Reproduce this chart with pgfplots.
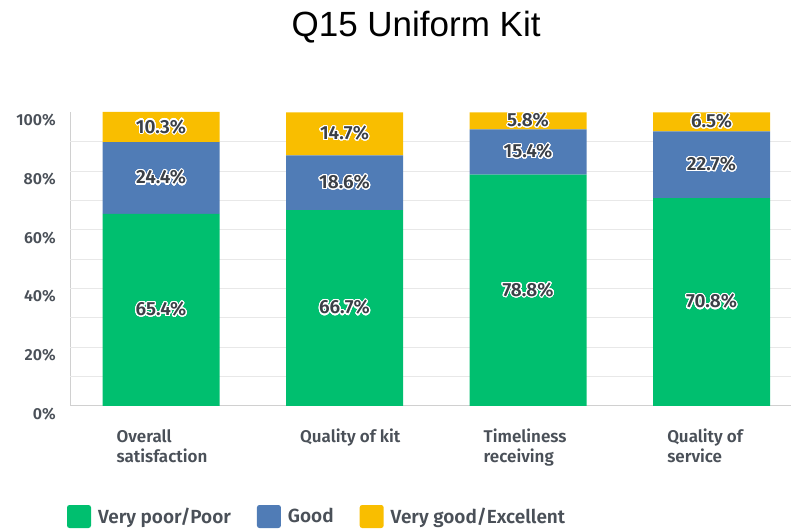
\documentclass[border=0pt]{standalone}
\usepackage{pgfplots}
\pgfplotsset{compat=1.18}
\usepackage{pgfplotstable}
\usepackage{fontspec}
\setmainfont{Fira Sans}[BoldFont={Fira Sans SemiBold}]
\newfontfamily\titlefont{Liberation Sans}
\usepackage{contour}
\contourlength{1.1pt}
\contournumber{32}
\definecolor{cgreen}{HTML}{00BF6F}
\definecolor{cblue}{HTML}{507CB6}
\definecolor{cyellow}{HTML}{F9BE00}
\definecolor{labgray}{HTML}{4A5058}
\definecolor{valgray}{HTML}{3B4047}
\definecolor{gridgray}{HTML}{E8E8E8}
\definecolor{axgray}{HTML}{D0D0D0}

\pgfplotstableread{
x g b y
0 65.4 24.4 10.3
1 66.7 18.6 14.7
2 78.8 15.4 5.8
3 70.8 22.7 6.5
}\data

\begin{document}
\begin{tikzpicture}
\path[use as bounding box] (0,0) rectangle (791pt,529pt);
\begin{axis}[
  at={(70pt,123pt)}, anchor=south west,
  scale only axis, width=721pt, height=294pt,
  ybar stacked, bar width=117pt,
  xmin=-0.496, xmax=3.433, ymin=0, ymax=100.1,
  clip=false,
  axis x line*=bottom, axis y line*=left,
  axis line style={draw=axgray, line width=1pt, -},
  major tick length=0pt, minor tick length=0pt,
  xtick={0,1,2,3},
  xticklabels={Overall\\satisfaction, Quality of kit, Timeliness\\receiving, Quality of\\service},
  xticklabel style={align=left, anchor=north west, inner sep=0pt, xshift=-44.5pt, yshift=-23pt,
    font=\bfseries\fontsize{17}{20}\selectfont, text=labgray},
  ytick={0,20,40,60,80,100},
  yticklabels={0\%,20\%,40\%,60\%,80\%,100\%},
  yticklabel style={anchor=east, inner sep=0pt, xshift=-14pt, yshift=-8pt,
    font=\bfseries\fontsize{16}{19}\selectfont, text=labgray},
  extra y ticks={10,20,30,40,50,60,70,80,90},
  extra y tick labels={},
  extra y tick style={grid=major, major grid style={draw=gridgray, line width=1pt}},
  title={Q15 Uniform Kit},
  title style={font=\titlefont\fontsize{35}{40}\selectfont, anchor=base, at={(0.48,1)}, yshift=69pt},
  legend columns=3,
  legend cell align=left,
  legend style={at={(0,0)}, anchor=west, xshift=-3pt, yshift=-110.5pt, draw=none, fill=none,
    inner sep=0pt, outer sep=0pt, column sep=7pt,
    /tikz/every even column/.append style={column sep=26pt},
    nodes={inner sep=0pt, font=\bfseries\fontsize{19}{22}\selectfont, text=labgray}},
  point meta=explicit,
  nodes near coords={\contour{white}{\textcolor{valgray}{\pgfmathprintnumber[fixed,fixed zerofill,precision=1,assume math mode=true]{\pgfplotspointmeta}\%}}},
  every node near coord/.append style={anchor=center, font=\bfseries\fontsize{19}{22}\selectfont, text=valgray},
  sq/.style={legend image code/.code={\fill[##1, rounded corners=2.5pt] (0pt,-11.5pt) rectangle (24pt,11.5pt);}},
]
\addplot[fill=cgreen, draw=none, sq] table[x=x, y=g, meta=g] {\data};
\addplot[fill=cblue, draw=none, sq] table[x=x, y=b, meta=b] {\data};
\addplot[fill=cyellow, draw=none, sq] table[x=x, y=y, meta=y] {\data};
\legend{Very poor/Poor, Good, Very good/Excellent}
\end{axis}
\end{tikzpicture}
\end{document}
